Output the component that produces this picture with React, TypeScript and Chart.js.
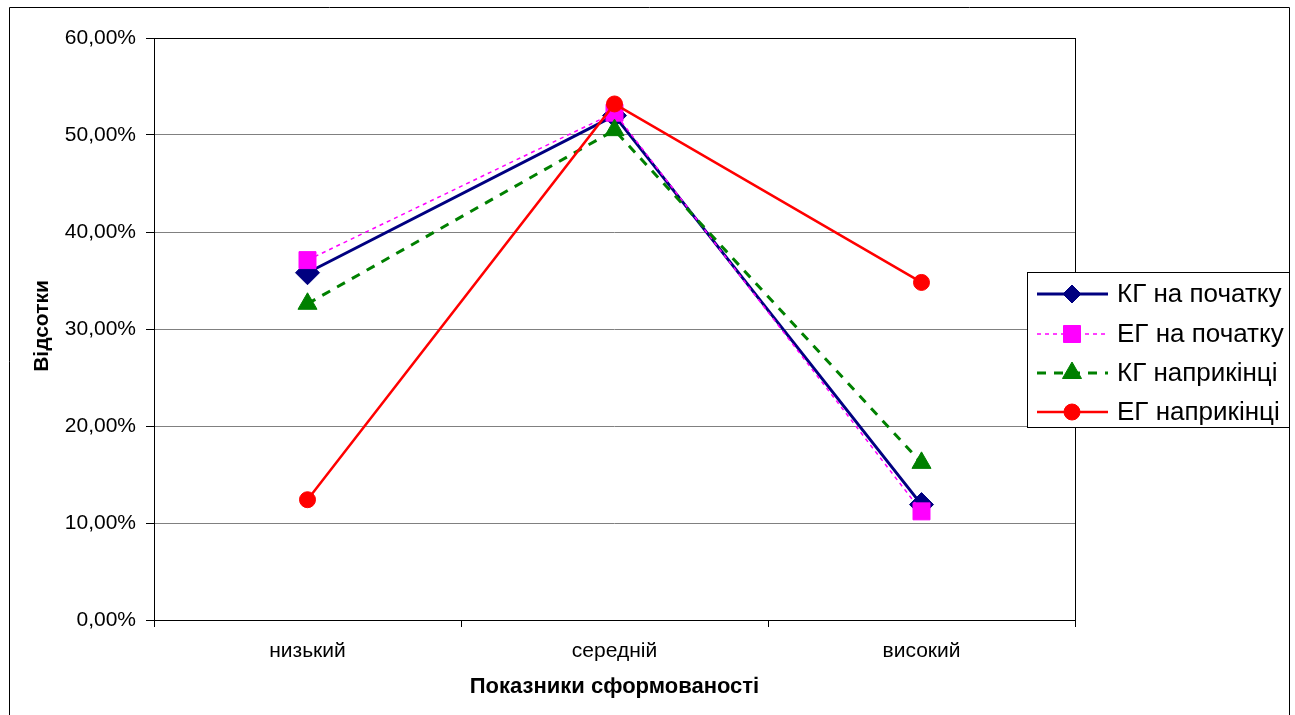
import { useEffect, useRef } from 'react';
import { Chart, registerables } from 'chart.js';

Chart.register(...registerables);

// Categories and series values (percent)
const categories = ['низький', 'середній', 'високий'];
const seriesNames = ['КГ на початку', 'ЕГ на початку', 'КГ наприкінці', 'ЕГ наприкінці'];
const kgStart = [35.8, 52.0, 11.9];
const egStart = [37.1, 52.3, 11.2];
const kgEnd = [32.6, 50.5, 16.2];
const egEnd = [12.4, 53.2, 34.8];

const yMin = 0;
const yMax = 60;
const yStep = 10;

const xTitle = 'Показники сформованості';
const yTitle = 'Відсотки';

const FONT = '"Liberation Sans", Arial, sans-serif';

const formatPercent = (v: number) => v.toFixed(2).replace('.', ',') + '%';

// Small marker painter for the legend samples
function drawMarker(ctx: CanvasRenderingContext2D, style: string, r: number, x: number, y: number) {
  ctx.beginPath();
  if (style === 'rectRot') {
    ctx.moveTo(x - r, y);
    ctx.lineTo(x, y - r);
    ctx.lineTo(x + r, y);
    ctx.lineTo(x, y + r);
    ctx.closePath();
  } else if (style === 'rect') {
    const h = r * Math.SQRT1_2;
    ctx.rect(x - h, y - h, 2 * h, 2 * h);
  } else if (style === 'triangle') {
    ctx.moveTo(x, y - r);
    ctx.lineTo(x + r * Math.sin((2 * Math.PI) / 3), y + r / 2);
    ctx.lineTo(x - r * Math.sin((2 * Math.PI) / 3), y + r / 2);
    ctx.closePath();
  } else {
    ctx.arc(x, y, r, 0, Math.PI * 2);
  }
  ctx.fill();
  ctx.stroke();
}

export default function App() {
  const canvasRef = useRef<HTMLCanvasElement | null>(null);

  useEffect(() => {
    const canvas = canvasRef.current;
    if (!canvas) return;

    const decorations = {
      id: 'decorations',
      beforeDatasetsDraw(chart: any) {
        const { ctx, chartArea } = chart;
        ctx.save();
        ctx.strokeStyle = '#000';
        ctx.lineWidth = 1;
        ctx.strokeRect(
          Math.round(chartArea.left) + 0.5,
          Math.round(chartArea.top) + 0.5,
          Math.round(chartArea.right - chartArea.left),
          Math.round(chartArea.bottom - chartArea.top)
        );
        ctx.restore();
      },
      afterDraw(chart: any) {
        const { ctx, chartArea } = chart;
        ctx.save();

        // outer frame
        ctx.strokeStyle = '#000';
        ctx.lineWidth = 1;
        ctx.beginPath();
        ctx.moveTo(9.5, 720);
        ctx.lineTo(9.5, 7.5);
        ctx.lineTo(1289.5, 7.5);
        ctx.lineTo(1289.5, 720);
        ctx.stroke();

        // axis titles
        ctx.fillStyle = '#000';
        ctx.textAlign = 'center';
        ctx.textBaseline = 'middle';
        ctx.font = `bold 22px ${FONT}`;
        ctx.fillText(xTitle, (chartArea.left + chartArea.right) / 2, 687);
        ctx.font = `bold 21px ${FONT}`;
        ctx.save();
        ctx.translate(42, (chartArea.top + chartArea.bottom) / 2 - 3);
        ctx.rotate(-Math.PI / 2);
        ctx.fillText(yTitle, 0, 0);
        ctx.restore();

        // legend box
        const lx = 1027.5;
        const ly = 272.5;
        const lw = 262;
        const lh = 155;
        ctx.fillStyle = '#fff';
        ctx.fillRect(lx, ly, lw, lh);
        ctx.strokeStyle = '#000';
        ctx.lineWidth = 1;
        ctx.strokeRect(lx, ly, lw, lh);

        const rows = [294, 334, 373, 412];
        chart.data.datasets.forEach((ds: any, i: number) => {
          const y = rows[i];
          ctx.save();
          ctx.strokeStyle = ds.borderColor;
          ctx.lineWidth = ds.borderWidth;
          ctx.setLineDash(ds.borderDash || []);
          ctx.beginPath();
          ctx.moveTo(1037, y);
          ctx.lineTo(1108, y);
          ctx.stroke();
          ctx.setLineDash([]);
          ctx.fillStyle = ds.backgroundColor;
          ctx.strokeStyle = ds.borderColor;
          ctx.lineWidth = 1;
          drawMarker(ctx, ds.pointStyle, ds.legendRadius, 1072, y);
          ctx.restore();

          ctx.fillStyle = '#000';
          ctx.font = `26px ${FONT}`;
          ctx.textAlign = 'left';
          ctx.textBaseline = 'middle';
          ctx.fillText(ds.label, 1117, y + 1);
        });
        ctx.restore();
      },
    };

    const tickFont = { family: FONT, size: 21 };

    const chart = new Chart(canvas, {
      type: 'line',
      data: {
        labels: categories,
        datasets: [
          {
            label: seriesNames[0],
            data: kgStart,
            borderColor: '#000080',
            backgroundColor: '#000080',
            borderWidth: 3,
            pointStyle: 'rectRot',
            pointRadius: 12,
            pointBorderWidth: 1,
            legendRadius: 9,
            order: 3,
          } as any,
          {
            label: seriesNames[1],
            data: egStart,
            borderColor: '#FF00FF',
            backgroundColor: '#FF00FF',
            borderWidth: 1.5,
            borderDash: [4, 4],
            pointStyle: 'rect',
            pointRadius: 12,
            pointBorderWidth: 1,
            legendRadius: 12,
            order: 2,
          } as any,
          {
            label: seriesNames[2],
            data: kgEnd,
            borderColor: '#008000',
            backgroundColor: '#008000',
            borderWidth: 3,
            borderDash: [9, 8],
            pointStyle: 'triangle',
            pointRadius: 11,
            pointBorderWidth: 1,
            legendRadius: 11,
            order: 1,
          } as any,
          {
            label: seriesNames[3],
            data: egEnd,
            borderColor: '#FF0000',
            backgroundColor: '#FF0000',
            borderWidth: 2.5,
            pointStyle: 'circle',
            pointRadius: 8,
            pointBorderWidth: 1,
            legendRadius: 8,
            order: 0,
          } as any,
        ],
      },
      options: {
        responsive: false,
        animation: false,
        devicePixelRatio: 1,
        layout: { padding: { left: 0, top: 38, right: 220, bottom: 0 } },
        plugins: {
          legend: { display: false },
          tooltip: { enabled: false },
        },
        elements: { line: { tension: 0 } },
        scales: {
          x: {
            offset: true,
            grid: {
              offset: true,
              drawOnChartArea: false,
              tickLength: 7,
              tickColor: '#000',
              color: '#000',
            },
            border: { display: false },
            ticks: { font: tickFont, color: '#000', padding: 12, maxRotation: 0 },
            afterFit: (s: any) => {
              s.height = 95;
            },
          },
          y: {
            min: yMin,
            max: yMax,
            grid: {
              color: '#808080',
              tickColor: '#000',
              tickLength: 8,
            },
            border: { display: false },
            ticks: {
              stepSize: yStep,
              font: tickFont,
              color: '#000',
              padding: 10,
              callback: (v: any) => formatPercent(Number(v)),
            },
            afterFit: (s: any) => {
              s.width = 154;
            },
          },
        },
      },
      plugins: [decorations],
    });

    return () => chart.destroy();
  }, []);

  return (
    <div style={{ position: 'fixed', left: 0, top: 0, width: 1295, height: 715, background: '#fff' }}>
      <canvas ref={canvasRef} width={1295} height={715} style={{ display: 'block' }} />
    </div>
  );
}
